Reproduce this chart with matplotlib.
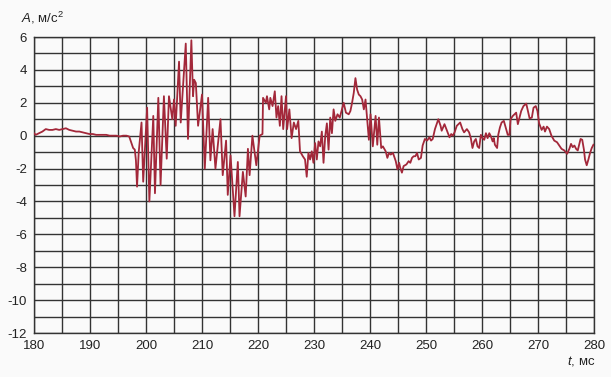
import matplotlib
matplotlib.use("Agg")
import matplotlib.pyplot as plt
import numpy as np

# time, ms
t = [180, 180.3, 180.9, 181.5, 182.1, 182.7, 183.3, 183.9, 184.5, 185.1, 185.7, 186.3, 186.9, 187.5,
     188.1, 188.7, 189.3, 189.9, 190.5, 191.1, 191.7, 192.3, 192.9, 193.5, 194.1, 194.7, 195.3, 195.9,
     196.5, 197.0, 197.4, 197.7, 198.0, 198.2, 198.4, 198.7, 199.2, 199.5, 200.2, 200.6, 201.3, 201.6,
     202.2, 202.6, 203.2, 203.7, 204.1, 204.7, 205.0, 205.3, 205.9, 206.2, 207.1, 207.5, 208.1, 208.4,
     208.6, 208.9, 209.3, 210.0, 210.5, 211.1, 211.5, 211.9, 212.4, 213.3, 213.7, 214.3, 214.6, 215.1,
     215.8, 216.4, 216.7, 217.3, 217.8, 218.2, 218.5, 219.0, 219.7, 220.3, 220.8, 220.9, 221.4, 221.6,
     222.0, 222.2, 222.6, 223.0, 223.3, 223.6, 223.9, 224.2, 224.5, 225.0, 225.2, 225.6, 226.0, 226.4,
     226.8, 227.2, 227.5, 228.0, 228.4, 228.7, 229.0, 229.3, 229.6, 229.9, 230.2, 230.5, 230.8, 231.1,
     231.4, 231.7, 232.0, 232.3, 232.6, 232.9, 233.2, 233.5, 233.8, 234.2, 234.6, 235.0, 235.3, 235.7,
     236.2, 236.5, 236.8, 237.1, 237.4, 237.7, 238.0, 238.3, 238.6, 238.9, 239.2, 239.5, 239.8, 240.1,
     240.5, 241.0, 241.3, 241.6, 242.0, 242.3, 242.8, 243.1, 243.4, 243.7, 244.1, 244.6, 244.9, 245.2,
     245.4, 245.7, 246.0, 246.5, 246.9, 247.2, 247.5, 247.8, 248.1, 248.4, 248.7, 249.1, 249.4, 249.8,
     250.2, 250.6, 250.9, 251.2, 251.6, 252.2, 252.6, 252.8, 253.3, 253.75, 254.2, 254.5, 254.8, 255.1,
     255.5, 256.1, 256.5, 256.8, 257.3, 257.7, 258.0, 258.3, 258.6, 258.9, 259.2, 259.5, 259.8, 260.1,
     260.4, 260.7, 261.0, 261.3, 261.6, 261.9, 262.1, 262.3, 262.7, 262.9, 263.2, 263.5, 263.9, 264.3,
     264.6, 264.9, 265.1, 265.5, 265.8, 266.1, 266.4, 266.7, 267.0, 267.4, 267.9, 268.2, 268.5, 268.9,
     269.2, 269.6, 269.9, 270.2, 270.65, 271.0, 271.25, 271.6, 272.0, 272.4, 272.9, 273.4, 273.8, 274.2,
     274.7, 275.2, 275.6, 275.9, 276.2, 276.5, 276.8, 277.1, 277.6, 277.9, 278.2, 278.4, 278.7, 279.0,
     279.3, 279.6, 279.9]

# acceleration, m/s^2
A = [0.15, 0.05, 0.15, 0.25, 0.4, 0.35, 0.35, 0.4, 0.35, 0.4, 0.45, 0.35, 0.3, 0.25,
     0.25, 0.2, 0.15, 0.1, 0.1, 0.05, 0.05, 0.05, 0.05, 0.0, 0.0, 0.0, -0.05, 0.0,
     0.0, -0.05, -0.45, -0.75, -0.85, -1.5, -3.1, -1.0, 0.8, -2.8, 1.7, -4.0, 1.2, -3.5,
     2.3, -3.0, 2.4, -1.4, 2.4, 1.0, 2.2, 0.6, 4.5, 0.8, 5.6, -0.2, 5.8, 2.4,
     3.4, 3.2, 0.6, 2.5, -2.0, 2.3, -1.5, 0.4, -2.0, 1.0, -2.4, -0.3, -3.6, -1.2,
     -4.9, -1.6, -4.9, -2.2, -3.7, -0.8, -2.4, 0.0, -1.8, 0.0, 0.1, 2.3, 2.0, 2.4,
     1.6, 2.3, 1.8, 2.7, 1.1, 1.8, 0.6, 2.4, 0.4, 2.4, 0.4, 1.6, -0.15, 0.8,
     0.4, 0.9, -0.95, -1.25, -1.45, -2.5, -1.05, -1.45, -0.95, -1.65, -0.45, -1.45, -0.35, -0.65,
     0.25, -1.65, -0.05, 0.75, -0.85, 1.1, 0.15, 1.6, 0.9, 1.3, 1.1, 1.6, 2.0, 1.4,
     1.3, 1.5, 2.0, 2.6, 3.5, 2.8, 2.5, 2.4, 2.2, 1.6, 2.2, 1.0, -0.25, 1.3,
     -0.65, 1.2, -0.55, 1.1, -0.75, -0.65, -0.95, -1.35, -1.05, -1.15, -1.05, -1.55, -2.05, -1.65,
     -1.95, -2.25, -1.85, -1.75, -1.55, -1.65, -1.35, -1.25, -1.25, -1.05, -1.45, -1.35, -0.6, -0.2,
     -0.3, -0.1, -0.3, -0.2, 0.4, 1.0, 0.6, 0.3, 0.7, 0.3, -0.1, 0.1, 0.0, 0.2,
     0.6, 0.8, 0.4, 0.2, 0.4, 0.2, -0.15, -0.75, -0.35, -0.2, -0.65, -0.75, 0.05, -0.15,
     -0.25, 0.15, -0.15, 0.15, -0.05, -0.35, -0.15, -0.55, -0.75, 0.05, 0.5, 0.8, 0.9, 0.4,
     0.05, 0.05, 1.0, 1.2, 1.3, 1.4, 0.7, 1.1, 1.5, 1.8, 1.95, 1.5, 1.05, 1.1,
     1.7, 1.8, 1.5, 0.75, 0.35, 0.55, 0.25, 0.55, 0.4, 0.0, -0.3, -0.4, -0.6, -0.8,
     -0.9, -1.1, -0.8, -0.5, -0.7, -0.6, -0.8, -0.9, -0.2, -0.25, -0.85, -1.45, -1.8, -1.45,
     -1.05, -0.75, -0.55]

x_ticks = np.arange(180, 281, 10)
y_ticks = np.arange(-12, 7, 2)

plt.rcParams["font.family"] = ["Liberation Sans", "DejaVu Sans"]
plt.rcParams["mathtext.fontset"] = "custom"
plt.rcParams["mathtext.rm"] = "Liberation Sans"
plt.rcParams["mathtext.it"] = "Liberation Sans:italic"

bg = "#fafafa"
fig = plt.figure(figsize=(6.11, 3.77), dpi=100, facecolor=bg)
ax = fig.add_axes([34 / 611, 1 - 333 / 377, 560 / 611, 296 / 377])
ax.set_facecolor(bg)

ax.plot(t, A, color="#a3283a", lw=1.3, zorder=3)

ax.set_xlim(180, 280)
ax.set_ylim(-12, 6)
ax.set_xticks(x_ticks)
ax.set_yticks(y_ticks)
ax.set_xticks(np.arange(180, 281, 5), minor=True)
ax.set_yticks(np.arange(-12, 7, 1), minor=True)
ax.set_yticklabels([str(v).replace("-", "-") for v in y_ticks])
ax.grid(which="both", color="#333333", lw=1.0)
ax.tick_params(which="both", length=0, labelsize=9.5, colors="#222222", pad=5)
for s in ax.spines.values():
    s.set_color("#333333")
    s.set_linewidth(1.0)

fig.text(21 / 611, 1 - 22 / 377, r"$\mathit{A}$, м/с$^2$", fontsize=9.5,
         color="#222222", va="baseline")
fig.text(595 / 611, 1 - 361 / 377, r"$\mathit{t}$, мс", fontsize=9.5,
         color="#222222", ha="right", va="center")

fig.savefig("out.png", dpi=100, facecolor=bg)
